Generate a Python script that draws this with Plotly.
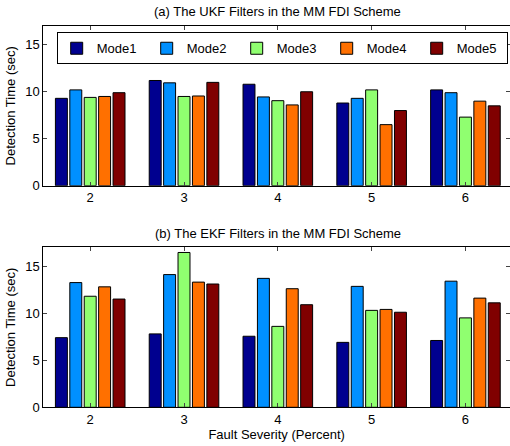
import plotly.graph_objects as go

# ---------------- data ----------------
fault_severity = [2, 3, 4, 5, 6]
modes = ["Mode1", "Mode2", "Mode3", "Mode4", "Mode5"]

ukf_mode1 = [9.3, 11.2, 10.8, 8.8, 10.2]
ukf_mode2 = [10.2, 10.95, 9.45, 9.3, 9.9]
ukf_mode3 = [9.4, 9.5, 9.05, 10.2, 7.3]
ukf_mode4 = [9.5, 9.55, 8.6, 6.5, 9.0]
ukf_mode5 = [9.9, 11.0, 10.0, 8.0, 8.5]

ekf_mode1 = [7.4, 7.8, 7.55, 6.9, 7.1]
ekf_mode2 = [13.25, 14.1, 13.7, 12.85, 13.4]
ekf_mode3 = [11.8, 16.45, 8.6, 10.3, 9.5]
ekf_mode4 = [12.8, 13.3, 12.6, 10.4, 11.6]
ekf_mode5 = [11.5, 13.1, 10.9, 10.1, 11.1]

ukf = [ukf_mode1, ukf_mode2, ukf_mode3, ukf_mode4, ukf_mode5]
ekf = [ekf_mode1, ekf_mode2, ekf_mode3, ekf_mode4, ekf_mode5]

colors = ["#00008F", "#0090FF", "#90FF70", "#FF7000", "#800000"]

# ---------------- figure ----------------
FONT = "Liberation Sans, Arial, Helvetica, sans-serif"
fig = go.Figure()

for i, m in enumerate(modes):
    fig.add_trace(go.Bar(
        x=fault_severity, y=ukf[i], name=m, legendgroup=m,
        marker=dict(color=colors[i], line=dict(color="black", width=1)),
        xaxis="x", yaxis="y", showlegend=True,
    ))
for i, m in enumerate(modes):
    fig.add_trace(go.Bar(
        x=fault_severity, y=ekf[i], name=m, legendgroup=m,
        marker=dict(color=colors[i], line=dict(color="black", width=1)),
        xaxis="x2", yaxis="y2", showlegend=False,
    ))

W, H = 510, 446
xl, xr = 43.3 / W, 1.0
top_y = [(H - 185.7) / H, (H - 26) / H]
bot_y = [(H - 407.3) / H, (H - 247.3) / H]

common_x = dict(
    range=[1.5, 6.475], tickvals=fault_severity, ticks="inside", ticklen=4,
    showline=True, linecolor="black", linewidth=1, mirror="ticks",
    showgrid=False, zeroline=False, automargin=False,
    tickfont=dict(family=FONT, size=13, color="black"),
    domain=[xl, xr],
)
common_y = dict(
    range=[0, 17], tickvals=[0, 5, 10, 15], ticks="inside", ticklen=4,
    showline=True, linecolor="black", linewidth=1, mirror="ticks",
    showgrid=False, zeroline=False, automargin=False,
    tickfont=dict(family=FONT, size=13, color="black"),
    title=dict(text="Detection Time (sec)", font=dict(family=FONT, size=13, color="black"), standoff=6),
)

fig.update_layout(
    width=W, height=H, template="none",
    margin=dict(l=0, r=0, t=0, b=0),
    paper_bgcolor="white", plot_bgcolor="white",
    barmode="group", bargap=0.232, bargroupgap=0.17,
    font=dict(family=FONT, size=13, color="black"),
    xaxis=dict(common_x, anchor="y"),
    yaxis=dict(common_y, domain=top_y, anchor="x"),
    xaxis2=dict(common_x, anchor="y2",
                title=dict(text="Fault Severity (Percent)", font=dict(family=FONT, size=13, color="black"), standoff=2)),
    yaxis2=dict(common_y, domain=bot_y, anchor="x2"),
    legend=dict(
        orientation="h", x=56.7 / W, y=(H - 32.3) / H, xanchor="left", yanchor="top",
        bordercolor="black", borderwidth=1, bgcolor="white",
        entrywidth=45, entrywidthmode="pixels", itemwidth=30,
        font=dict(family=FONT, size=13, color="black"),
        tracegroupgap=0,
    ),
    annotations=[
        dict(text="(a) The UKF Filters in the MM FDI Scheme", xref="paper", yref="paper",
             x=(xl + 512 / W) / 2, y=(H - 11.7) / H, xanchor="center", yanchor="middle",
             showarrow=False, font=dict(family=FONT, size=13, color="black")),
        dict(text="(b) The EKF Filters in the MM FDI Scheme", xref="paper", yref="paper",
             x=(xl + 512 / W) / 2, y=(H - 233.3) / H, xanchor="center", yanchor="middle",
             showarrow=False, font=dict(family=FONT, size=13, color="black")),
    ],
)

fig.write_html("out.html")
